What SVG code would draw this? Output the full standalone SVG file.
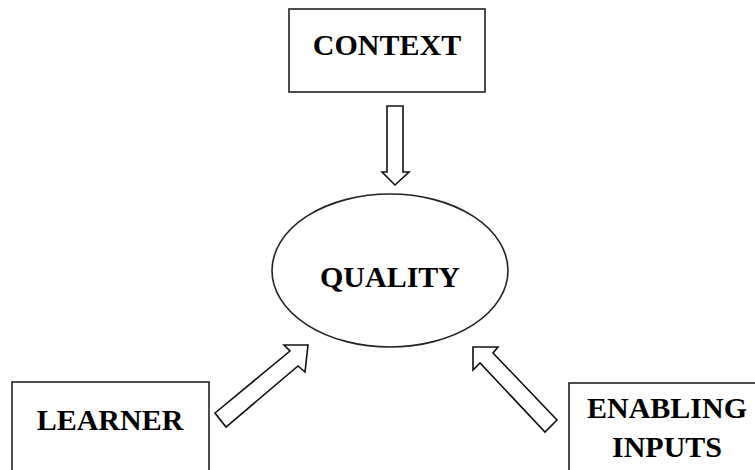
<svg xmlns="http://www.w3.org/2000/svg" width="755" height="470" viewBox="0 0 755 470">
<style>
.box{fill:#fff;stroke:#222;stroke-width:1.6}
.arr{fill:#fff;stroke:#111;stroke-width:1.6;stroke-linejoin:miter}
.lbl{font-family:"Liberation Serif","Times New Roman",serif;font-weight:bold;font-size:30px;fill:#000;text-anchor:middle}
</style>
<rect width="755" height="470" fill="#fff"/>
<g id="context">
<rect class="box" x="289" y="9" width="196" height="83"/>
<text class="lbl" x="387" y="55">CONTEXT</text>
</g>
<g id="quality">
<ellipse class="box" cx="390" cy="270.5" rx="118" ry="76.5"/>
<text class="lbl" x="390" y="287">QUALITY</text>
</g>
<g id="learner">
<rect class="box" x="12" y="382" width="197" height="100"/>
<text class="lbl" x="110" y="430">LEARNER</text>
</g>
<g id="enabling-inputs">
<rect class="box" x="569" y="383" width="200" height="100"/>
<text class="lbl" x="667" y="418">ENABLING</text>
<text class="lbl" x="667" y="457">INPUTS</text>
</g>
<g id="connectors">
<polygon class="arr" points="387,106 403,106 403,172 409,172 395,185 382,172 387,172"/>
<polygon class="arr" points="215,413 290,351 284,345 308,345 305,372 298,366 226,427"/>
<polygon class="arr" points="473,347 498,347 493,353 557,420 545,432 480,363 473,370"/>
</g>
</svg>
